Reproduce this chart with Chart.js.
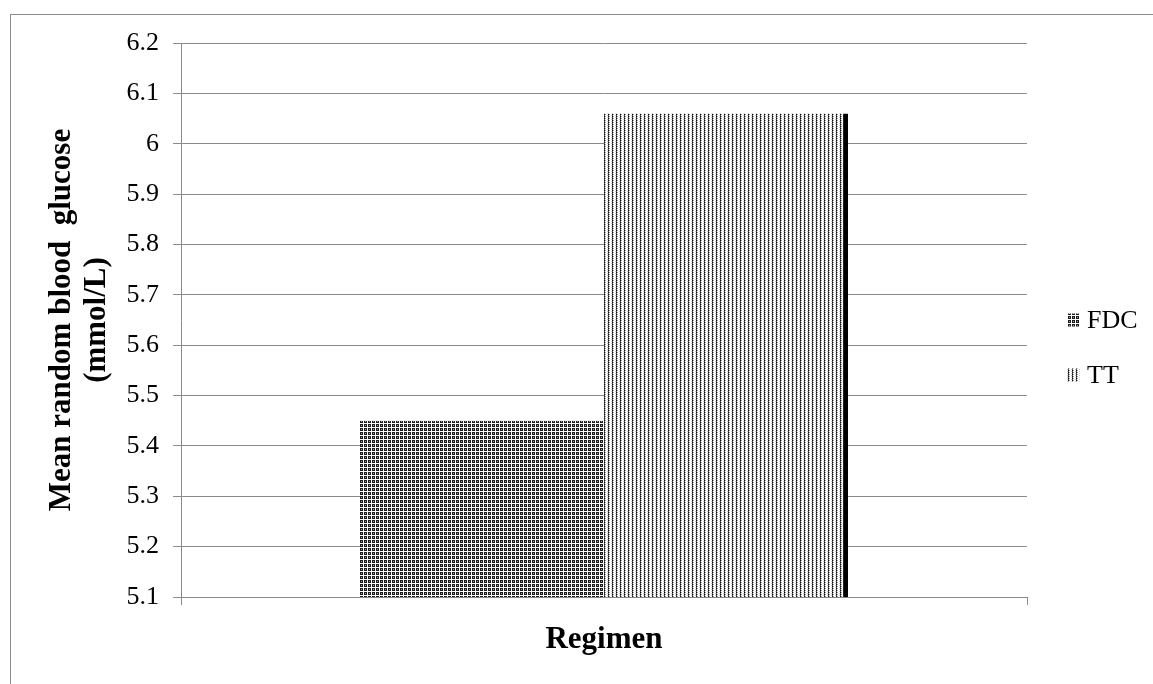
<!DOCTYPE html>
<html>
<head>
<meta charset="utf-8">
<script src="https://cdn.jsdelivr.net/npm/chart.js@4.4.1/dist/chart.umd.min.js"></script>
<style>
html,body{margin:0;padding:0;background:#fff;}
#wrap{position:relative;width:1153px;height:684px;overflow:hidden;}
#frame{position:absolute;left:10px;top:14px;width:1200px;height:700px;border:1px solid #8c8c8c;box-sizing:border-box;}
#c{position:absolute;left:0;top:0;}
</style>
</head>
<body>
<div id="wrap"><div id="frame"></div><canvas id="c" width="1153" height="684"></canvas></div>
<script>
// ---- data ----
const categories = [''];
const seriesNames = ['FDC', 'TT'];
const fdcValues = [5.45];
const ttValues = [6.06];
const yTickLabels = ['5.1', '5.2', '5.3', '5.4', '5.5', '5.6', '5.7', '5.8', '5.9', '6', '6.1', '6.2'];
const yAxisTitle = ['Mean random blood  glucose', '(mmol/L)'];
const xAxisTitle = 'Regimen';

// ---- patterns ----
function makePattern(kind) {
  const t = document.createElement('canvas');
  const w = 4, h = kind === 'grid' ? 4 : 2;
  t.width = w; t.height = h;
  const g = t.getContext('2d');
  g.fillStyle = '#fff';
  g.fillRect(0, 0, w, h);
  const px = (x, y, c) => { g.fillStyle = c; g.fillRect(x, y, 1, 1); };
  if (kind === 'grid') {
    for (let y = 0; y < 3; y++) for (let x = 0; x < 3; x++) px(x, y, '#1c1c1c');
    px(1, 1, '#9a9a9a');
  } else {
    px(0, 0, '#111');
    px(0, 1, '#555');
    px(1, 0, '#9a9a9a');
    px(3, 1, '#c8c8c8');
  }
  return g.createPattern(t, 'repeat');
}
const fdcFill = makePattern('grid');
const ttFill = makePattern('dots');

const SERIF = '"Liberation Serif", "Times New Roman", serif';
const gridColor = '#8a8a8a';

const sideLegend = {
  id: 'sideLegend',
  afterDraw(chart) {
    const ctx = chart.ctx, ca = chart.chartArea;
    const midY = (ca.top + ca.bottom) / 2;
    ctx.save();
    ctx.font = '26px ' + SERIF;
    ctx.textBaseline = 'middle';
    ctx.textAlign = 'left';
    chart.data.datasets.forEach((ds, i) => {
      const y = midY + i * 55;
      const x = ca.right + 40;
      ctx.fillStyle = ds.backgroundColor;
      ctx.fillRect(x, y - 6.5, 13, 13);
      ctx.fillStyle = '#000';
      ctx.fillText(ds.label, x + 20, y + 1);
    });
    ctx.restore();
  }
};

new Chart(document.getElementById('c'), {
  type: 'bar',
  data: {
    labels: categories,
    datasets: [
      { label: seriesNames[0], data: fdcValues, backgroundColor: fdcFill,
        borderColor: '#000', borderWidth: { top: 0, left: 0, bottom: 2, right: 0 }, borderSkipped: false },
      { label: seriesNames[1], data: ttValues, backgroundColor: ttFill,
        borderColor: '#000', borderWidth: { top: 0, left: 0, bottom: 2, right: 5 }, borderSkipped: false }
    ]
  },
  options: {
    responsive: false,
    animation: false,
    devicePixelRatio: 1,
    layout: { padding: { top: 43, right: 126, bottom: 0, left: 0 } },
    categoryPercentage: 0.577,
    barPercentage: 1,
    plugins: {
      legend: { display: false },
      tooltip: { enabled: false }
    },
    scales: {
      x: {
        offset: true,
        grid: { display: true, drawOnChartArea: false, drawTicks: true, tickLength: 8, color: gridColor, lineWidth: 1 },
        border: { display: true, color: gridColor, width: 1 },
        ticks: { display: false },
        title: { display: true, text: xAxisTitle, color: '#000',
                 font: { family: SERIF, size: 31, weight: 'bold', lineHeight: 1 },
                 padding: { top: 0, bottom: 29 } },
        afterFit(scale) { scale.height = 87; }
      },
      y: {
        min: 5.1,
        max: 6.2,
        ticks: {
          stepSize: 0.1,
          padding: 14,
          color: '#000',
          font: { family: SERIF, size: 26 },
          callback: (v, i) => yTickLabels[i]
        },
        grid: { color: gridColor, lineWidth: 1, tickLength: 8, drawTicks: true },
        border: { display: true, color: gridColor, width: 1 },
        title: { display: true, text: yAxisTitle, color: '#000',
                 font: { family: SERIF, size: 31, weight: 'bold', lineHeight: 1.12 },
                 padding: { top: 45, bottom: 0 } },
        afterFit(scale) { scale.width = 181; }
      }
    }
  },
  plugins: [sideLegend]
});
</script>
</body>
</html>
